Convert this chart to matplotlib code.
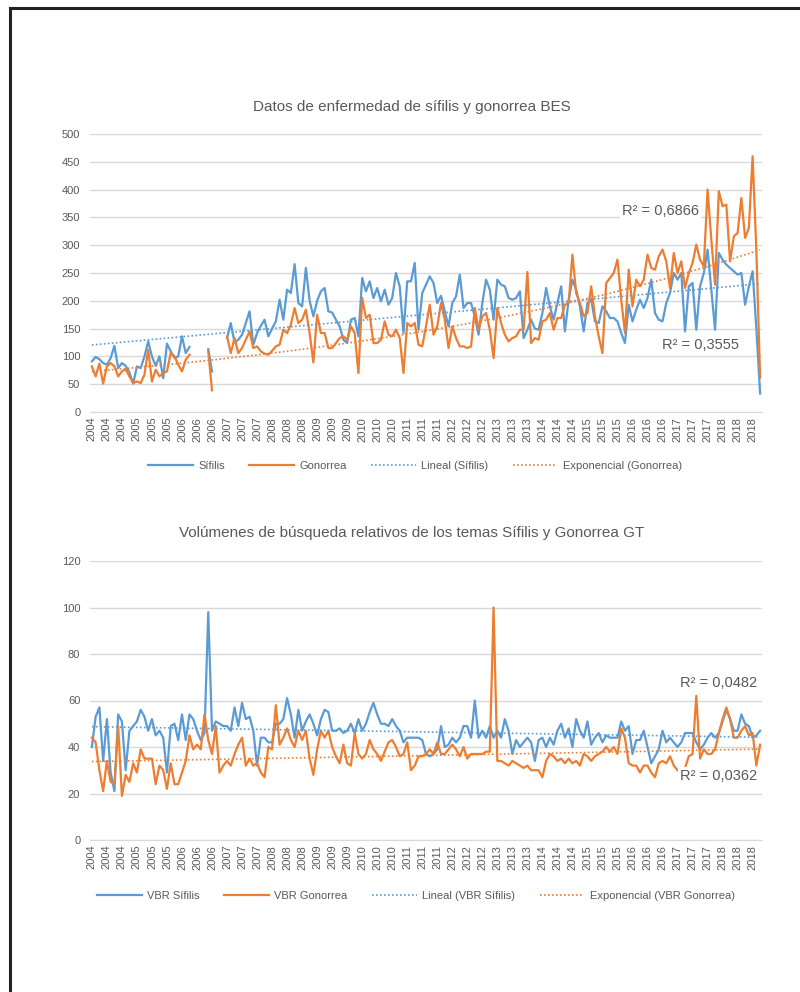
import numpy as np
import matplotlib
matplotlib.use("Agg")
import matplotlib.pyplot as plt
from matplotlib.lines import Line2D

plt.rcParams['font.family'] = ['Liberation Sans', 'DejaVu Sans']

BLUE = "#5B9BD5"
ORANGE = "#ED7D31"
GRAY_TXT = "#595959"
GRID = "#D9D9D9"

# monthly values, Jan 2004 .. Nov 2018 (None = no data)
bes_sifilis = [
    91, 99, 95, 88, 85, 97, 119, 79, 88, 83, 71, 51,
    82, 79, 100, 127, 100, 83, 100, 61, 123, 109, 97, 100,
    136, 106, 117, None, None, None, None, 113, 73, None, None, None,
    133, 160, 125, 130, 139, 160, 181, 121, 142, 155, 166, 136,
    150, 163, 202, 166, 220, 214, 266, 196, 190, 259, 200, 172,
    200, 217, 223, 181, 179, 166, 154, 130, 124, 166, 169, 136,
    241, 217, 235, 205, 223, 199, 220, 193, 205, 250, 226, 142,
    235, 235, 268, 148, 214, 229, 244, 232, 196, 209, 181, 154,
    196, 208, 247, 187, 196, 196, 172, 139, 196, 238, 220, 166,
    238, 229, 226, 205, 202, 205, 217, 133, 148, 166, 150, 148,
    178, 223, 190, 166, 196, 226, 145, 202, 238, 220, 190, 145,
    196, 202, 163, 160, 190, 181, 169, 169, 163, 142, 124, 193,
    163, 184, 202, 187, 205, 238, 178, 166, 163, 196, 214, 250,
    238, 250, 145, 226, 232, 148, 226, 250, 292, 220, 148, 286,
    274, 265, 259, 253, 247, 250, 193, 226, 253, 150, 33,
]
bes_gonorrea = [
    82, 64, 87, 51, 82, 88, 82, 64, 73, 77, 64, 52,
    55, 52, 67, 112, 55, 76, 64, 70, 73, 106, 100, 85,
    73, 94, 103, None, None, None, None, 109, 39, None, None, None,
    136, 106, 133, 106, 115, 130, 145, 115, 118, 109, 105, 103,
    110, 118, 121, 148, 142, 157, 187, 160, 166, 184, 142, 89,
    175, 142, 142, 115, 115, 124, 133, 136, 130, 154, 142, 70,
    205, 169, 175, 124, 124, 130, 163, 139, 136, 148, 133, 70,
    160, 154, 160, 121, 118, 154, 193, 139, 154, 196, 166, 115,
    154, 133, 118, 118, 115, 118, 187, 148, 172, 178, 148, 97,
    187, 160, 139, 127, 133, 136, 148, 148, 252, 124, 133, 130,
    163, 166, 178, 148, 169, 169, 193, 196, 283, 214, 196, 172,
    178, 226, 172, 136, 106, 232, 241, 250, 274, 202, 142, 256,
    190, 238, 226, 238, 283, 259, 256, 280, 292, 271, 223, 286,
    250, 271, 223, 250, 268, 301, 274, 262, 400, 310, 229, 397,
    370, 373, 271, 316, 322, 385, 313, 331, 460, 290, 62,
]
vbr_sifilis = [
    40, 53, 57, 34, 52, 29, 21, 54, 51, 30, 47, 49,
    51, 56, 53, 47, 52, 45, 47, 44, 29, 49, 50, 43,
    54, 43, 54, 52, 47, 43, 46, 98, 47, 51, 50, 49,
    49, 47, 57, 49, 59, 52, 53, 47, 32, 44, 44, 42,
    42, 50, 50, 52, 61, 54, 44, 56, 47, 51, 54, 50,
    45, 52, 56, 55, 47, 47, 48, 46, 47, 50, 46, 52,
    47, 50, 55, 59, 54, 50, 50, 49, 52, 49, 47, 42,
    44, 44, 44, 44, 43, 37, 36, 37, 39, 49, 40, 41,
    44, 42, 44, 49, 49, 44, 60, 44, 47, 44, 49, 44,
    47, 44, 52, 47, 37, 43, 40, 42, 44, 42, 34, 43,
    44, 40, 44, 41, 47, 50, 44, 48, 40, 52, 47, 44,
    51, 41, 44, 46, 42, 45, 44, 44, 44, 51, 47, 49,
    37, 43, 43, 47, 40, 33, 36, 39, 47, 42, 44, 42,
    40, 42, 46, 46, 46, 42, 39, 41, 44, 46, 44, 46,
    51, 56, 52, 47, 47, 54, 50, 49, 44, 45, 47,
]
vbr_gonorrea = [
    44, 42, 30, 21, 34, 25, 24, 49, 19, 28, 25, 33,
    29, 39, 35, 35, 35, 24, 32, 30, 22, 33, 24, 24,
    29, 34, 45, 39, 41, 39, 54, 43, 37, 49, 29, 32,
    34, 32, 37, 41, 44, 32, 35, 32, 33, 29, 27, 40,
    39, 58, 41, 44, 48, 43, 40, 47, 43, 47, 35, 28,
    39, 47, 44, 47, 40, 36, 33, 41, 33, 32, 46, 37,
    35, 37, 43, 39, 37, 34, 38, 42, 43, 40, 36, 37,
    42, 30, 32, 36, 36, 37, 39, 37, 42, 37, 37, 39,
    41, 39, 36, 40, 35, 37, 37, 37, 37, 38, 38, 100,
    34, 34, 33, 32, 34, 33, 32, 31, 32, 30, 30, 30,
    27, 34, 37, 36, 34, 35, 33, 35, 33, 34, 32, 37,
    36, 34, 36, 37, 38, 40, 38, 40, 37, 48, 44, 33,
    32, 32, 29, 32, 32, 29, 27, 33, 34, 33, 36, 32,
    30, None, 31, 36, 37, 62, 35, 39, 37, 37, 39, 46,
    52, 57, 52, 44, 44, 47, 49, 45, 46, 32, 41,
]

# every 4th category carries a label
x_labels = [
    "2004", "2004", "2004", "2005", "2005", "2005", "2006", "2006", "2006",
    "2007", "2007", "2007", "2008", "2008", "2008", "2009", "2009", "2009",
    "2010", "2010", "2010", "2011", "2011", "2011", "2012", "2012", "2012",
    "2013", "2013", "2013", "2014", "2014", "2014", "2015", "2015", "2015",
    "2016", "2016", "2016", "2017", "2017", "2017", "2018", "2018", "2018",
]

r2_top = ["R² = 0,6866", "R² = 0,3555"]
r2_bottom = ["R² = 0,0482", "R² = 0,0362"]


def to_arr(vals):
    return np.array([np.nan if v is None else v for v in vals], dtype=float)


def linear_trend(y):
    x = np.arange(1, len(y) + 1)
    ok = ~np.isnan(y)
    a, b = np.polyfit(x[ok], y[ok], 1)
    return a * x + b


def exp_trend(y):
    x = np.arange(1, len(y) + 1)
    ok = ~np.isnan(y)
    a, b = np.polyfit(x[ok], np.log(y[ok]), 1)
    return np.exp(b) * np.exp(a * x)


def style_axes(ax, ymax, step, n):
    ax.set_xlim(-0.5, n - 0.5)
    ax.set_ylim(0, ymax)
    ax.set_yticks(np.arange(0, ymax + 1, step))
    ax.yaxis.grid(True, color=GRID, linewidth=1)
    ax.set_axisbelow(True)
    for s in ["top", "right", "left"]:
        ax.spines[s].set_visible(False)
    ax.spines["bottom"].set_color(GRID)
    ax.set_xticks(np.arange(0, n, 4))
    ax.set_xticklabels(x_labels, rotation=90, fontsize=8, color=GRAY_TXT)
    ax.tick_params(axis="both", length=0, labelsize=8, labelcolor=GRAY_TXT)
    ax.tick_params(axis="y", pad=7)


dot = (0, (1, 1.4))
W, H = 800, 992
fig = plt.figure(figsize=(W / 100, H / 100), dpi=100)

# ---- top chart
s1 = to_arr(bes_sifilis)
g1 = to_arr(bes_gonorrea)
n = len(s1)
x = np.arange(n)

ax1 = fig.add_axes([90 / W, 1 - 412 / H, 672 / W, 278 / H])
ax1.plot(x, s1, color=BLUE, lw=1.6, label="Sífilis")
ax1.plot(x, g1, color=ORANGE, lw=1.6, label="Gonorrea")
ax1.plot(x, linear_trend(s1), color=BLUE, lw=1.2, ls=dot, label="Lineal (Sífilis)")
ax1.plot(x, exp_trend(g1), color=ORANGE, lw=1.2, ls=dot, label="Exponencial (Gonorrea)")
style_axes(ax1, 500, 50, n)
box = dict(facecolor="white", edgecolor="none", pad=1.5)
ax1.text(151.5, 361, r2_top[0], ha="center", va="center", fontsize=10.5, color=GRAY_TXT, bbox=box)
ax1.text(162, 120, r2_top[1], ha="center", va="center", fontsize=10.5, color=GRAY_TXT, bbox=box)
fig.text(412 / W, 1 - 107 / H, "Datos de enfermedad de sífilis y gonorrea BES",
         ha="center", va="center", fontsize=11, color=GRAY_TXT)
fig.legend(handles=ax1.get_lines(), loc="center", bbox_to_anchor=(415 / W, 1 - 466 / H),
           ncol=4, frameon=False, fontsize=8, handlelength=4, columnspacing=2.2,
           handletextpad=0.5, labelcolor=GRAY_TXT)

# ---- bottom chart
s2 = to_arr(vbr_sifilis)
g2 = to_arr(vbr_gonorrea)

ax2 = fig.add_axes([90 / W, 1 - 840 / H, 672 / W, 279 / H])
ax2.plot(x, s2, color=BLUE, lw=1.6, label="VBR Sífilis")
ax2.plot(x, g2, color=ORANGE, lw=1.6, label="VBR Gonorrea")
ax2.plot(x, linear_trend(s2), color=BLUE, lw=1.2, ls=dot, label="Lineal (VBR Sífilis)")
ax2.plot(x, exp_trend(g2), color=ORANGE, lw=1.2, ls=dot, label="Exponencial (VBR Gonorrea)")
style_axes(ax2, 120, 20, n)
ax2.text(167, 67.5, r2_bottom[0], ha="center", va="center", fontsize=10.5, color=GRAY_TXT, bbox=box)
ax2.text(167, 27.5, r2_bottom[1], ha="center", va="center", fontsize=10.5, color=GRAY_TXT, bbox=box)
fig.text(412 / W, 1 - 533 / H,
         "Volúmenes de búsqueda relativos de los temas Sífilis y Gonorrea GT",
         ha="center", va="center", fontsize=11, color=GRAY_TXT)
fig.legend(handles=ax2.get_lines(), loc="center", bbox_to_anchor=(416 / W, 1 - 896 / H),
           ncol=4, frameon=False, fontsize=8, handlelength=4, columnspacing=2.2,
           handletextpad=0.5, labelcolor=GRAY_TXT)

# page frame
fig.add_artist(Line2D([10 / W, 1], [1 - 8 / H, 1 - 8 / H], color="#222222", lw=2.2))
fig.add_artist(Line2D([10 / W, 10 / W], [0, 1 - 8 / H], color="#222222", lw=2.2))

fig.savefig("out.png", dpi=100)
